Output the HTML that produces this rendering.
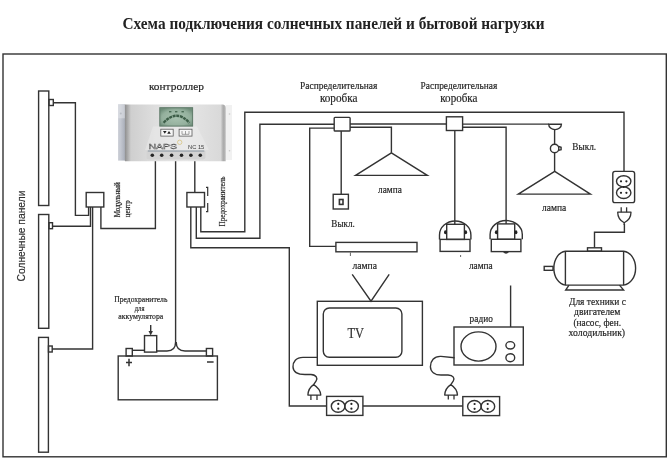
<!DOCTYPE html>
<html><head><meta charset="utf-8">
<style>
html,body{margin:0;padding:0;background:#fff;}
body{width:670px;height:461px;overflow:hidden;}
svg{display:block;will-change:transform;}
text{font-family:"Liberation Serif",serif;fill:#222;}
.s{font-family:"Liberation Sans",sans-serif;}
</style></head><body>
<svg width="670" height="461" viewBox="0 0 670 461">
<defs>
<linearGradient id="cbody" x1="0" x2="1" y1="0" y2="0">
<stop offset="0" stop-color="#8f8f8f"/><stop offset="0.025" stop-color="#a9a9a9"/><stop offset="0.06" stop-color="#cfcfcf"/><stop offset="0.3" stop-color="#dedede"/><stop offset="0.6" stop-color="#e6e6e6"/><stop offset="0.95" stop-color="#d9d9d9"/><stop offset="0.975" stop-color="#ababab"/><stop offset="1" stop-color="#b8b8b8"/>
</linearGradient>
<linearGradient id="lflange" x1="0" x2="1" y1="0" y2="0">
<stop offset="0" stop-color="#c9ccd4"/><stop offset="0.35" stop-color="#c4c8d1"/><stop offset="1" stop-color="#a9aeb9"/>
</linearGradient>
<radialGradient id="lcd" cx="0.5" cy="0.55" r="0.62">
<stop offset="0" stop-color="#a8c2b0"/><stop offset="0.7" stop-color="#94b09d"/><stop offset="1" stop-color="#6e8d79"/>
</radialGradient>
<linearGradient id="strip" x1="0" x2="0" y1="0" y2="1">
<stop offset="0" stop-color="#b9b9b9"/><stop offset="0.5" stop-color="#cfcfcf"/><stop offset="1" stop-color="#c2c2c2"/>
</linearGradient>
</defs>
<!-- title -->
<text x="122.5" y="29.4" font-size="15.8" font-weight="bold" textLength="422" lengthAdjust="spacingAndGlyphs">Схема подключения солнечных панелей и бытовой нагрузки</text>

<g fill="none" stroke="#333" stroke-width="1.4">
<!-- frame -->
<rect x="3" y="54" width="663.3" height="402.8"/>

<!-- solar panels -->
<rect x="38.6" y="91" width="10.2" height="114.5"/>
<rect x="38.6" y="214.5" width="10.2" height="113.8"/>
<rect x="38.6" y="337.4" width="9.8" height="114.8"/>
<rect x="49" y="99.5" width="4.3" height="6"/>
<rect x="49" y="222.7" width="3.5" height="6"/>
<rect x="48.5" y="346" width="3.7" height="6"/>
<!-- panel wires -->
<polyline points="53.3,102.8 75.4,102.8 75.4,215.4 88.6,215.4 88.6,207"/>
<polyline points="52.5,226.2 90.5,226.2 90.5,207"/>
<polyline points="52.2,349 92.6,349 92.6,207"/>
<!-- module box -->
<rect x="86.2" y="192.5" width="17.6" height="14.5"/>
<polyline points="100.9,207 100.9,228.5 155.4,228.5 155.4,161"/>

<!-- controller wire 2 to battery -->
<path d="M175.6,161 V342 Q175.6,351 167,351 H156.7"/>
<path d="M176.2,342 Q176.2,351 185,351 H206.6"/>
<line x1="132.3" y1="350.3" x2="144.5" y2="350.3"/>
<!-- battery -->
<rect x="118.2" y="356" width="99.2" height="43.8"/>
<rect x="126.1" y="348.5" width="6.2" height="7.5"/>
<rect x="206.4" y="348.5" width="6.2" height="7.5"/>
<rect x="144.5" y="335.6" width="12.2" height="16.5"/>
<line x1="150.7" y1="325" x2="150.7" y2="333"/>

<!-- controller wire 3 to fuse -->
<line x1="194.8" y1="161" x2="194.8" y2="192.5"/>
<rect x="186.9" y="192.5" width="17.6" height="14.5"/>
<polyline points="200.8,207 200.8,231.8 244.8,231.8 244.8,112.2 624,112.2 624,171.3"/>
<polyline points="196.3,207 196.3,238.2 259.9,238.2 259.9,124.2 334,124.2"/>
<polyline points="190.8,207 190.8,247.7 289.3,247.7 289.3,406 326.6,406"/>
<line x1="362.9" y1="406" x2="462.8" y2="406"/>
<!-- fuse marks -->
<polyline points="206,187.3 207.7,187.3 207.7,196" stroke-width="1.2"/>
<polyline points="207.7,203 207.7,211.6 206,211.6" stroke-width="1.2"/>

<!-- wire x=310 to fluorescent -->
<polyline points="334.2,128.1 309.7,128.1 309.7,246.4 335.9,246.4"/>

<!-- junction box 1 -->
<rect x="334.2" y="117.4" width="15.9" height="13.6" rx="0.8"/>
<line x1="350.1" y1="124" x2="446.4" y2="124"/>
<polyline points="350.1,127.2 391.4,127.2 391.4,152.7"/>
<line x1="341.2" y1="131" x2="341.2" y2="194.3"/>
<!-- switch 1 -->
<rect x="333.2" y="194.3" width="15.2" height="14.7"/>
<rect x="339.4" y="199.5" width="3.6" height="4.9" stroke-width="1.6"/>
<!-- lamp 1 -->
<polygon points="391.4,152.8 427.3,175.4 355.6,175.4"/>

<!-- junction box 2 -->
<rect x="446.4" y="116.8" width="16.2" height="13.7"/>
<line x1="462.6" y1="124.1" x2="548.7" y2="124.1"/>
<polyline points="462.6,127.3 506.1,127.3 506.1,220.5"/>
<line x1="454.8" y1="130.5" x2="454.8" y2="221"/>
<!-- ceiling mount + switch + lamp3 -->
<path d="M548.7,124.3 H561.4 A6.35,5.3 0 0 1 548.7,124.3 Z"/>
<line x1="554.6" y1="129.5" x2="554.6" y2="144.3"/>
<circle cx="554.6" cy="148.5" r="4.2"/>
<path d="M558.6,146.5 l2.5,0.8 l0,2.5 l-2.5,0.5"/>
<line x1="554.6" y1="152.7" x2="554.6" y2="171.5"/>
<polygon points="554.7,171.4 590.4,194.1 518.3,194.1"/>

<!-- fluorescent lamp -->
<rect x="335.9" y="242.4" width="81.1" height="9.4"/>

<!-- lamps A and B -->
<path d="M439.5,239.4 V235 A15.7,14 0 0 1 470.9,235 V239.4"/>
<rect x="440.1" y="239.4" width="29.9" height="12"/>
<rect x="446.7" y="224.3" width="17.7" height="15.1"/>
<line x1="454.8" y1="221" x2="454.8" y2="224.3"/>
<path d="M490.1,239.3 V234.5 A16.1,14 0 0 1 522.3,234.5 V239.3"/>
<rect x="491.3" y="239.3" width="29.6" height="12.3"/>
<rect x="497.6" y="223.9" width="17.1" height="15.4"/>
<line x1="506.1" y1="220.5" x2="506.1" y2="223.9"/>

<!-- TV -->
<polyline points="352.2,274.4 371,301.2 389.2,274.4"/>
<rect x="317.3" y="301.3" width="105.1" height="64"/>
<rect x="323.3" y="308" width="78.6" height="49.3" rx="6"/>

<!-- radio -->
<line x1="510.6" y1="285.5" x2="510.6" y2="327"/>
<rect x="454" y="327" width="69.3" height="38"/>
<ellipse cx="478.5" cy="346.5" rx="17.5" ry="14.6"/>
<ellipse cx="510.3" cy="345.3" rx="4.4" ry="3.7"/>
<ellipse cx="510.3" cy="357.7" rx="4.4" ry="4"/>

<!-- sockets horizontal -->
<rect x="326.6" y="396.4" width="36.3" height="19"/>
<ellipse cx="338.1" cy="406.3" rx="6.8" ry="5.9"/>
<ellipse cx="351.6" cy="406.3" rx="6.8" ry="5.9"/>
<rect x="462.8" y="396.6" width="36.8" height="19"/>
<ellipse cx="474.4" cy="406.4" rx="6.8" ry="5.9"/>
<ellipse cx="487.9" cy="406.4" rx="6.8" ry="5.9"/>
<!-- cords -->
<path d="M317.3,357.4 L303,357.4 C296,357.4 292.8,362 293,367 C293.3,372 298,374.5 305,374.5 L311,374.5 C316.5,374.8 318,378.5 316,381.2 L313.6,384.6"/>
<path d="M454.6,357.8 L441,356.4 C434,356 430.4,361 430.4,366.7 C430.6,372 435,375 441,375 L448,375 C453.5,375.3 455,378.5 453.2,381.2 L450.8,384.6"/>
<!-- vertical socket -->
<rect x="612.8" y="171.4" width="21.8" height="31.2" rx="2.2"/>
<ellipse cx="623.7" cy="181.3" rx="7.2" ry="5.6"/>
<ellipse cx="623.7" cy="192.7" rx="7.2" ry="5.8"/>
<!-- motor -->
<polyline points="624.4,224 624.4,232.3 594.5,232.3 594.5,247.8"/>
<rect x="587.5" y="247.8" width="14" height="3.4"/>
<path d="M565.4,251.2 H623.6 A13,17 0 0 1 623.6,285.1 H565.4 A12.5,17 0 0 1 565.4,251.2 Z"/>
<line x1="565.4" y1="251.2" x2="565.4" y2="285.1"/>
<line x1="623.6" y1="251.2" x2="623.6" y2="285.1"/>
<rect x="544.2" y="266.4" width="8.8" height="3.9"/>
<polyline points="569,285.1 565.7,290 623.6,290 619.5,285.1"/>
</g>

<!-- plugs -->
<g fill="#fff" stroke="#333" stroke-width="1.3" stroke-linejoin="round">
<path d="M617.7,212.2 H631 C631,217 628.5,220.5 624.2,222.8 C620,220.5 617.7,217 617.7,212.2 Z"/>
<line x1="621.2" y1="207.3" x2="621.2" y2="212.2"/>
<line x1="626.6" y1="207.3" x2="626.6" y2="212.2"/>
<line x1="624.2" y1="222.8" x2="624.2" y2="225"/>
<path d="M313.6,384.6 C310,387 308,391 307.9,395.1 L320.8,395.1 C320.6,391 317.5,387 313.6,384.6 Z"/>
<line x1="310.9" y1="395.1" x2="310.9" y2="399.9"/>
<line x1="317" y1="395.1" x2="317" y2="399.9"/>
<path d="M450.8,384.6 C447,387 444.9,391 444.7,395.1 L457.5,395.1 C457.3,391 454.5,387 450.8,384.6 Z"/>
<line x1="448.3" y1="395.1" x2="448.3" y2="399.6"/>
<line x1="454" y1="395.1" x2="454" y2="399.6"/>
</g>
<g fill="#222">
<circle cx="338.3" cy="403.9" r="1.1"/><circle cx="338.3" cy="408.7" r="1.1"/>
<circle cx="351.4" cy="403.9" r="1.1"/><circle cx="351.4" cy="408.7" r="1.1"/>
<circle cx="474.6" cy="404" r="1.1"/><circle cx="474.6" cy="408.8" r="1.1"/>
<circle cx="487.7" cy="404" r="1.1"/><circle cx="487.7" cy="408.8" r="1.1"/>
<circle cx="621" cy="181.3" r="1.1"/><circle cx="626.4" cy="181.3" r="1.1"/>
<circle cx="621" cy="192.8" r="1.1"/><circle cx="626.4" cy="192.8" r="1.1"/>
<circle cx="623.7" cy="187" r="0.9"/>
<ellipse cx="445.4" cy="232.3" rx="1.4" ry="2"/><ellipse cx="465.7" cy="232.3" rx="1.4" ry="2"/>
<ellipse cx="496.3" cy="232.3" rx="1.4" ry="2"/><ellipse cx="516" cy="232.3" rx="1.4" ry="2"/>
</g>
<!-- controller image -->
<g>
<rect x="118.1" y="104.3" width="7" height="56.3" fill="url(#lflange)"/>
<circle cx="120.8" cy="113.4" r="1" fill="#8d939d"/><rect x="118.1" y="104.3" width="7" height="14" fill="#e6e8ec" opacity="0.5"/>
<rect x="225.5" y="105" width="6.5" height="55" fill="#f1f1f1"/>
<circle cx="229.5" cy="114" r="0.8" fill="#c8c8c8"/><circle cx="229.5" cy="150.8" r="0.8" fill="#c8c8c8"/>
<path d="M124.9,161.2 V104.5 H222.5 Q225.7,104.5 225.7,108 V161.2 Z" fill="url(#cbody)"/>
<path d="M153,126.5 H197 L209,150 H145 Z" fill="#f5f5f5" opacity="0.3"/>
<rect x="159.8" y="107.7" width="32.8" height="18.4" fill="url(#lcd)" stroke="#5f7b69" stroke-width="1"/>
<path d="M163.6,122.8 Q176.5,108.6 189.4,122.8" fill="none" stroke="#3c5d47" stroke-width="2.4" stroke-dasharray="3 0.7"/>
<g fill="#4a6b55"><rect x="169" y="111" width="2.4" height="1.4"/><rect x="175" y="111" width="2.4" height="1.4"/><rect x="181.5" y="111" width="2.4" height="1.4"/></g>
<rect x="160.8" y="129.2" width="12.4" height="6.9" fill="#f6f6f6" stroke="#5a5a5a" stroke-width="0.8"/>
<rect x="179.1" y="129.2" width="12.9" height="6.9" fill="#f6f6f6" stroke="#5a5a5a" stroke-width="0.8"/>
<path d="M163,130.9 h3.6 l-1.8,2.8 z M167.2,133.8 h3.6 l-1.8,-2.8 z" fill="#222"/>
<path d="M182,131 v3.3 h7 v-3.3 M185.5,131 v3.3" fill="none" stroke="#666" stroke-width="0.6"/>
<path d="M146.5,151 H205.5 V157 Q205.5,159.5 202,159.5 H150 Q146.5,159.5 146.5,157 Z" fill="#d3d3d3"/>
<line x1="147.8" y1="151" x2="204.3" y2="151" stroke="#7f8c98" stroke-width="0.9"/>
<g fill="#262626">
<circle cx="152.3" cy="155.2" r="1.8"/><circle cx="161.7" cy="155.2" r="1.8"/><circle cx="171.6" cy="155.2" r="1.8"/>
<circle cx="181.5" cy="155.2" r="1.8"/><circle cx="190.9" cy="155.2" r="1.8"/><circle cx="200.3" cy="155.2" r="1.8"/>
</g>
<text x="148.4" y="149.1" font-size="7.4" class="s" style="fill:#e6e6e6;stroke:#505050;stroke-width:0.4" textLength="28.7" lengthAdjust="spacingAndGlyphs">NAPS</text>
<circle cx="179.7" cy="142.3" r="2.2" fill="none" stroke="#d9c88e" stroke-width="0.9"/>
<text x="188" y="149.1" font-size="5.2" class="s" style="fill:#3a3a3a" textLength="16.3" lengthAdjust="spacingAndGlyphs">NC 15</text>
</g>

<!-- labels -->
<g style="stroke:#2a2a2a;stroke-width:0.18">
<text x="148.9" y="89.8" font-size="11" textLength="55.1" lengthAdjust="spacingAndGlyphs">контроллер</text>
<text x="300.1" y="89.4" font-size="10.8" textLength="77.2" lengthAdjust="spacingAndGlyphs">Распределительная</text>
<text x="319.9" y="101.5" font-size="11.5" textLength="37.6" lengthAdjust="spacingAndGlyphs">коробка</text>
<text x="420.6" y="89.4" font-size="10.8" textLength="76.7" lengthAdjust="spacingAndGlyphs">Распределительная</text>
<text x="440.3" y="101.5" font-size="11.5" textLength="37.2" lengthAdjust="spacingAndGlyphs">коробка</text>
<text x="378" y="192.9" font-size="9.5" textLength="23.8" lengthAdjust="spacingAndGlyphs">лампа</text>
<text x="331.3" y="226.9" font-size="9.4" textLength="23.5" lengthAdjust="spacingAndGlyphs">Выкл.</text>
<text x="572.3" y="149.8" font-size="9.4" textLength="23.8" lengthAdjust="spacingAndGlyphs">Выкл.</text>
<text x="542" y="210.9" font-size="9.5" textLength="24.3" lengthAdjust="spacingAndGlyphs">лампа</text>
<text x="468.9" y="269.3" font-size="9.5" textLength="23.8" lengthAdjust="spacingAndGlyphs">лампа</text>
<text x="352.4" y="268.9" font-size="9.5" textLength="24.6" lengthAdjust="spacingAndGlyphs">лампа</text>
<text x="347.4" y="337.6" font-size="14.5" textLength="16.6" lengthAdjust="spacingAndGlyphs" style="fill:#333">TV</text>
<text x="469.6" y="321.5" font-size="9.5" textLength="23.2" lengthAdjust="spacingAndGlyphs">радио</text>
<text x="569" y="304.5" font-size="10.3" textLength="56.9" lengthAdjust="spacingAndGlyphs">Для техники с</text>
<text x="574.1" y="315.1" font-size="10.3" textLength="46.2" lengthAdjust="spacingAndGlyphs">двигателем</text>
<text x="573.4" y="325.6" font-size="10.3" textLength="47.7" lengthAdjust="spacingAndGlyphs">(насос, фен.</text>
<text x="568.6" y="336" font-size="10.3" textLength="56.5" lengthAdjust="spacingAndGlyphs">холодильник)</text>
<text x="114.2" y="302" font-size="7.8" textLength="53.2" lengthAdjust="spacingAndGlyphs">Предохранитель</text>
<text x="134.8" y="311" font-size="7.8" textLength="9.6" lengthAdjust="spacingAndGlyphs">для</text>
<text x="118.3" y="319" font-size="7.8" textLength="44.9" lengthAdjust="spacingAndGlyphs">аккумулятора</text>


<text transform="translate(24.9,281.5) rotate(-90)" font-size="11.2" class="s" style="fill:#333" textLength="90.9" lengthAdjust="spacingAndGlyphs">Солнечные панели</text>
<text transform="translate(120.2,217.3) rotate(-90)" font-size="7.6" textLength="35" lengthAdjust="spacingAndGlyphs">Модульный</text>
<text transform="translate(129.5,217.3) rotate(-90)" font-size="7.6" textLength="17" lengthAdjust="spacingAndGlyphs">центр</text>
<text transform="translate(225,226.4) rotate(-90)" font-size="8" textLength="50" lengthAdjust="spacingAndGlyphs">Предохранитель</text>
</g>
<line x1="207" y1="362" x2="213.6" y2="362" stroke="#333" stroke-width="1.5"/>
<path d="M126,362.5 H132 M129,358.8 V366.2" stroke="#333" stroke-width="1.5"/>
<g stroke="#555" stroke-width="0.9" fill="none">
<line x1="350.4" y1="252.5" x2="350.4" y2="256"/>
<line x1="460.6" y1="255" x2="460.6" y2="257"/>

</g>
<path d="M503,252 Q506,255.5 509,252 Z" fill="#333"/>
<!-- arrow head -->
<path d="M148.5,331 L150.7,335.5 L152.9,331 Z" fill="#333"/>
</svg>
</body></html>
